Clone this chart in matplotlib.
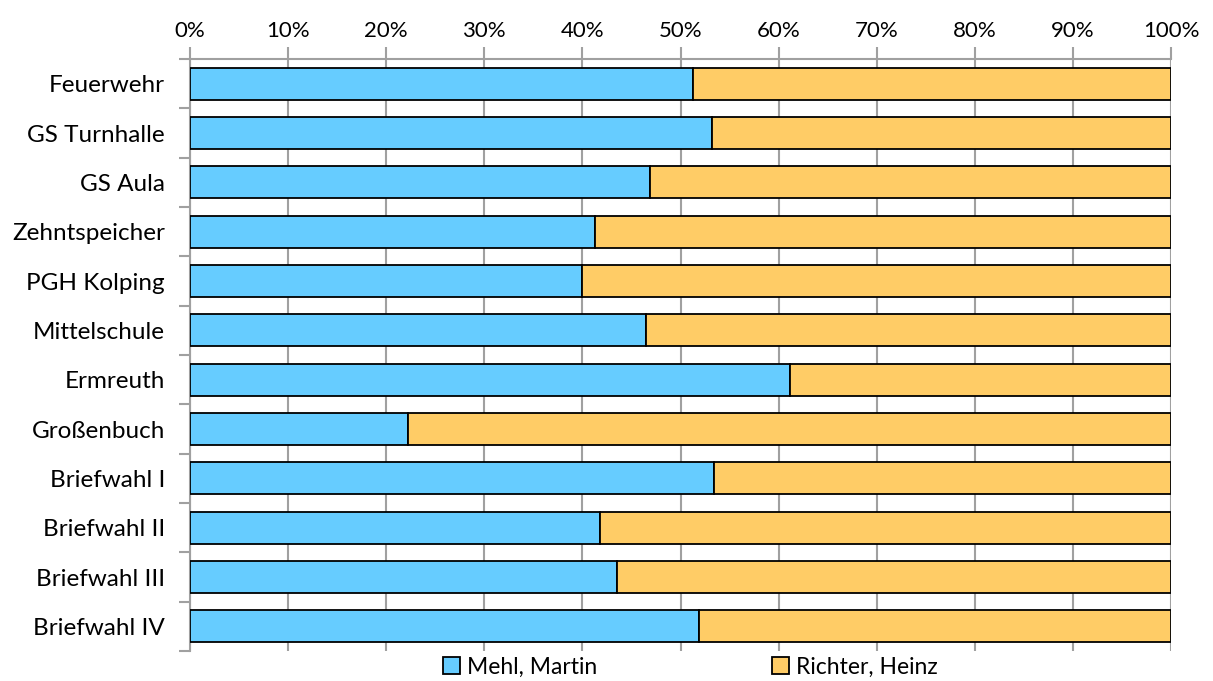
import matplotlib
matplotlib.use("Agg")
import matplotlib.pyplot as plt
from matplotlib.ticker import FixedLocator, PercentFormatter

categories = ["Feuerwehr", "GS Turnhalle", "GS Aula", "Zehntspeicher", "PGH Kolping",
              "Mittelschule", "Ermreuth", "Großenbuch", "Briefwahl I", "Briefwahl II",
              "Briefwahl III", "Briefwahl IV"]
mehl = [51.3, 53.2, 46.9, 41.3, 40.0, 46.5, 61.2, 22.2, 53.4, 41.8, 43.5, 51.9]
richter = [100 - v for v in mehl]
series_names = ["Mehl, Martin", "Richter, Heinz"]
colors = ["#66CCFF", "#FFCC66"]
x_ticks = list(range(0, 101, 10))

plt.rcParams['font.family'] = ['Lato', 'DejaVu Sans']

fig = plt.figure(figsize=(12.13, 6.81), dpi=100)
ax = fig.add_axes([190/1213, 1-651/681, (1171-190)/1213, (651-59)/681])

y = list(range(len(categories)))
grid_c = "#A0A0A0"
ax.barh(y, mehl, height=0.65, color=colors[0], edgecolor="black", linewidth=1.3,
        label=series_names[0], zorder=3)
ax.barh(y, richter, left=mehl, height=0.65, color=colors[1], edgecolor="black",
        linewidth=1.3, label=series_names[1], zorder=3)

ax.set_xlim(0, 100)
ax.set_ylim(len(categories) - 0.5, -0.5)
ax.set_xticks(x_ticks)
ax.xaxis.set_major_formatter(PercentFormatter(decimals=0))
ax.xaxis.tick_top()
ax.tick_params(axis='x', direction='out', length=9, width=1.5, color=grid_c,
               labelsize=16, pad=4)
ax.xaxis.grid(True, color=grid_c, linewidth=1.5, zorder=0)
ax.set_axisbelow(True)

ax.set_yticks(y)
ax.set_yticklabels(categories)
ax.yaxis.set_minor_locator(FixedLocator([i - 0.5 for i in range(len(categories) + 1)]))
ax.tick_params(axis='y', which='major', length=0, labelsize=17.5, pad=18)
ax.tick_params(axis='y', which='minor', direction='out', length=8, width=1.5, color=grid_c)

for s in ["right", "bottom"]:
    ax.spines[s].set_visible(False)
for s in ["left", "top"]:
    ax.spines[s].set_color(grid_c)
    ax.spines[s].set_linewidth(1.5)

fig.legend(loc="center", bbox_to_anchor=(0.569, 1-667/681), ncol=2, frameon=False,
           fontsize=16.5, handlelength=0.75, handleheight=0.75, handletextpad=0.3,
           columnspacing=7.6, borderaxespad=0, borderpad=0)

fig.savefig("out.png", dpi=100)
